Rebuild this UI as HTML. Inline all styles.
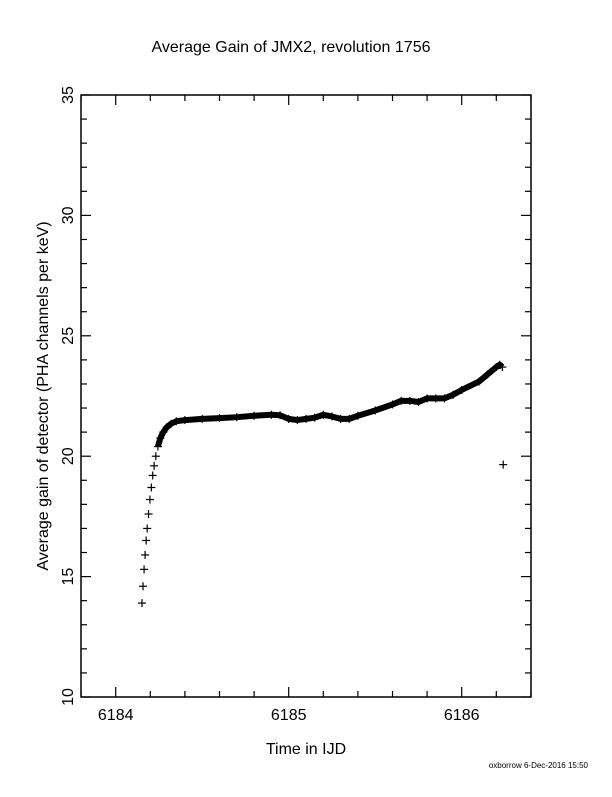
<!DOCTYPE html>
<html><head><meta charset="utf-8"><style>
body{margin:0;background:#fff}
svg text{font-family:"Liberation Sans",sans-serif;fill:#000}
</style></head><body>
<svg id="chart" width="612" height="792" viewBox="0 0 612 792" xmlns="http://www.w3.org/2000/svg">
<text x="291" y="52" font-size="16" text-anchor="middle">Average Gain of JMX2, revolution 1756</text>
<rect x="81" y="95" width="450" height="602" fill="none" stroke="#000" stroke-width="1.5"/>
<g id="axes"></g>
<g id="marks"></g>
<text transform="translate(48,396) rotate(-90)" font-size="16" text-anchor="middle">Average gain of detector (PHA channels per keV)</text>
<text x="306" y="754" font-size="16" text-anchor="middle">Time in IJD</text>
<text x="588" y="768" font-size="8" text-anchor="end">oxborrow  6-Dec-2016 15:50</text>
</svg>
<script>
const xTicks=[6184,6185,6186];
const yTicks=[10,15,20,25,30,35];
const times=[6184.152,6184.158,6184.164,6184.170,6184.176,6184.182,6184.190,6184.198,6184.206,6184.214,6184.222,6184.232,6184.244,6184.258,6184.275,6184.295,6184.32,6184.35,6184.40,6184.5,6184.6,6184.7,6184.8,6184.9,6184.95,6185.0,6185.05,6185.1,6185.15,6185.2,6185.25,6185.3,6185.35,6185.4,6185.5,6185.6,6185.65,6185.7,6185.75,6185.8,6185.85,6185.9,6185.95,6186.0,6186.1,6186.15,6186.2,6186.22,6186.235];
const gains=[13.9,14.6,15.3,15.9,16.5,17.0,17.6,18.2,18.7,19.2,19.6,20.0,20.4,20.75,21.0,21.2,21.35,21.45,21.5,21.55,21.58,21.62,21.68,21.72,21.7,21.55,21.5,21.55,21.6,21.72,21.65,21.55,21.55,21.68,21.9,22.15,22.3,22.3,22.25,22.4,22.4,22.4,22.55,22.75,23.1,23.4,23.7,23.8,23.7];
const outlierTimes=[6186.24];
const outlierGains=[19.65];
const X=t=>115.7+(t-6184)*173;
const Y=v=>697-(v-10)*24.08;
const NS="http://www.w3.org/2000/svg";
const ax=document.getElementById('axes'),mk=document.getElementById('marks');
function ln(p,x1,y1,x2,y2,w,name){const l=document.createElementNS(NS,'line');l.setAttribute('x1',x1);l.setAttribute('y1',y1);l.setAttribute('x2',x2);l.setAttribute('y2',y2);l.setAttribute('stroke','#000');l.setAttribute('stroke-width',w);


p.appendChild(l);}
for(let v=10;v<=35;v++){const y=Y(v),L=v%5===0?10:6;ln(ax,81,y,81+L,y,1.2,'y-tick');ln(ax,531,y,531-L,y,1.2,'y-tick-right');}
for(let t=6183.8;t<=6186.41;t+=0.2){const x=X(t);if(x<81||x>531)continue;const maj=Math.abs(t-Math.round(t))<0.01,L=maj?10:6;ln(ax,x,697,x,697-L,1.2,'x-tick');ln(ax,x,95,x,95+L,1.2,'x-tick-top');}
yTicks.forEach(v=>{const t=document.createElementNS(NS,'text');t.setAttribute('transform',`translate(73,${Y(v)}) rotate(-90)`);t.setAttribute('font-size','16');t.setAttribute('text-anchor','middle');t.textContent=v;


ax.appendChild(t);});
xTicks.forEach(v=>{const t=document.createElementNS(NS,'text');t.setAttribute('x',X(v));t.setAttribute('y',720);t.setAttribute('font-size','16');t.setAttribute('text-anchor','middle');t.textContent=v;


ax.appendChild(t);});
const pl=document.createElementNS(NS,'polyline');
pl.setAttribute('points',times.slice(12).map((t,i)=>X(t)+','+Y(gains[i+12])).join(' '));
pl.setAttribute('fill','none');pl.setAttribute('stroke','#000');pl.setAttribute('stroke-width','6');pl.setAttribute('stroke-linejoin','round');


mk.appendChild(pl);
function plus(t,v,name){const x=X(t),y=Y(v);ln(mk,x-4,y,x+4,y,1.2,name);ln(mk,x,y-4,x,y+4,1.2,name);}
times.forEach((t,i)=>plus(t,gains[i],'gain-point'));
outlierTimes.forEach((t,i)=>plus(t,outlierGains[i],'gain-outlier-point'));
</script>
</body></html>
